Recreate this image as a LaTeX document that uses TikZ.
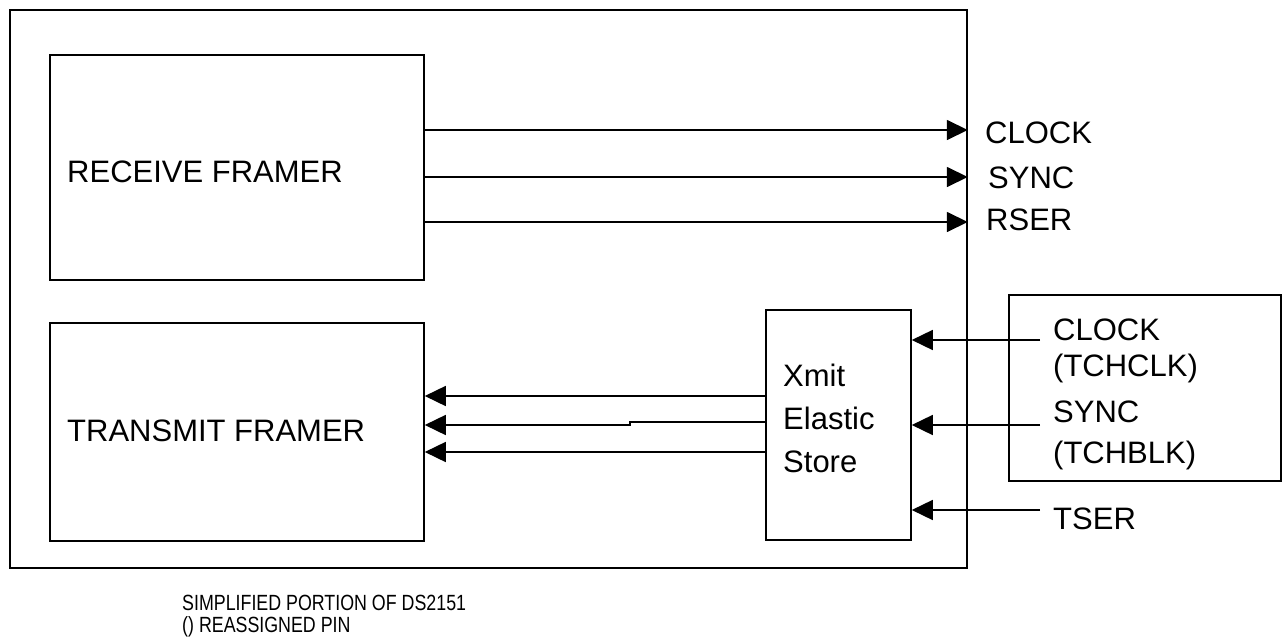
\documentclass[tikz,border=0pt]{standalone}
\usepackage{fontspec}
\setmainfont{Liberation Sans}
\usetikzlibrary{arrows.meta}
\begin{document}
\begin{tikzpicture}[x=1pt,y=-1pt,
  box/.style={draw,line width=1.6pt,inner sep=0pt},
  arr/.style={line width=1.6pt,-{Triangle[length=21pt,width=20pt]}},
  lbl/.style={anchor=west,inner sep=0pt,font=\fontsize{31}{36}\selectfont},
  note/.style={anchor=west,inner sep=0pt,font=\fontsize{22}{26}\selectfont}]
\useasboundingbox (0,0) rectangle (1286,642);
\node[box,minimum width=957pt,minimum height=558pt] (outer) at (488.5,289) {};
\node[box,minimum width=374pt,minimum height=225pt] (rf) at (237,167.5) {};
\node[box,minimum width=374pt,minimum height=218pt] (tf) at (237,432) {};
\node[box,minimum width=145pt,minimum height=230pt] (es) at (838.5,425) {};
\node[box,minimum width=272pt,minimum height=186pt] (rb) at (1145,388) {};
\node[lbl] (rft) at (67,172) {RECEIVE FRAMER};
\node[lbl] (tft) at (67,431) {TRANSMIT FRAMER};
\node[lbl] (x1) at (783,375) {Xmit};
\node[lbl] (x2) at (783,418) {Elastic};
\node[lbl] (x3) at (783,462) {Store};
\node[lbl] (oclk) at (985,133) {CLOCK};
\node[lbl] (osync) at (988,178) {SYNC};
\node[lbl] (orser) at (986,220) {RSER};
\node[lbl] (iclk) at (1053,330) {CLOCK};
\node[lbl] (iclk2) at (1053,368) {(TCHCLK)};
\node[lbl] (isync) at (1053,412) {SYNC};
\node[lbl] (isync2) at (1053,455) {(TCHBLK)};
\node[lbl] (itser) at (1053,519) {TSER};
\node[note] (n1) at (182,603) {\scalebox{0.81}[1]{SIMPLIFIED PORTION OF DS2151}};
\node[note] (n2) at (182,627) {\scalebox{0.81}[1]{() REASSIGNED PIN}};
% receive outputs
\draw[arr] (rf.east |- 0,130) -- (outer.east |- 0,130);
\draw[arr] (rf.east |- 0,177) -- (outer.east |- 0,177);
\draw[arr] (rf.east |- 0,222) -- (outer.east |- 0,222);
% inputs
\coordinate (s1) at (1040,340);
\coordinate (s2) at (1040,425);
\coordinate (s3) at (1040,510);
\draw[arr] (s1) -- (es.east |- s1);
\draw[arr] (s2) -- (es.east |- s2);
\draw[arr] (s3) -- (es.east |- s3);
% elastic store to transmit framer
\draw[arr] (es.west |- 0,396) -- (tf.east |- 0,396);
\draw[arr] (es.west |- 0,422) -- (630,422) -- (630,425) -- (tf.east |- 0,425);
\draw[arr] (es.west |- 0,452) -- (tf.east |- 0,452);
\end{tikzpicture}
\end{document}
